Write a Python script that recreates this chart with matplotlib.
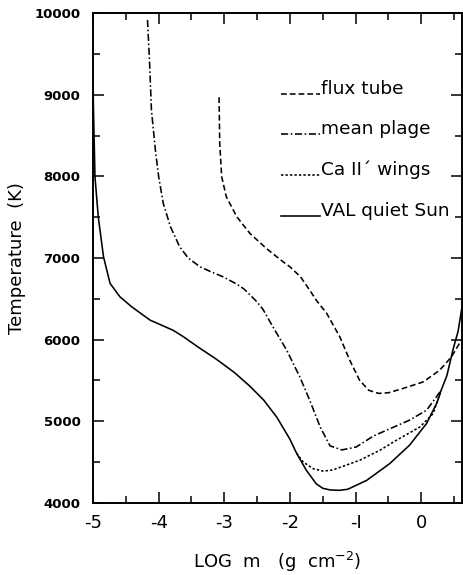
import numpy as np
import matplotlib
matplotlib.use("Agg")
import matplotlib.pyplot as plt
from matplotlib.ticker import MultipleLocator
from matplotlib.legend_handler import HandlerLine2D

# ---- data: log column mass vs temperature ----
val_x = [-5.0, -4.995, -4.97, -4.92, -4.84, -4.74, -4.59, -4.41, -4.13, -3.78, -3.63, -3.4,
         -3.12, -2.85, -2.61, -2.4, -2.2, -2.0, -1.9, -1.75, -1.6, -1.5, -1.39, -1.25, -1.12,
         -0.83, -0.48, -0.18, 0.08, 0.24, 0.3, 0.39, 0.49, 0.56, 0.63]
val_t = [9280, 8900, 7995, 7505, 7015, 6689, 6525, 6402, 6239, 6115, 6040, 5910,
         5760, 5600, 5430, 5260, 5050, 4780, 4610, 4400, 4235, 4180, 4160, 4155, 4168,
         4278, 4483, 4707, 4973, 5230, 5375, 5560, 5900, 6100, 6450]

ca_x = [-1.9, -1.8, -1.65, -1.49, -1.35, -1.19, -0.94, -0.63, -0.38, -0.02, 0.18, 0.3]
ca_t = [4610, 4503, 4421, 4390, 4405, 4450, 4523, 4646, 4768, 4931, 5095, 5375]

plage_x = [-4.17, -4.14, -4.11, -4.05, -4.0, -3.93, -3.82, -3.68, -3.55, -3.37, -3.2,
           -3.02, -2.81, -2.7, -2.61, -2.5, -2.41, -2.26, -2.05, -1.85, -1.7, -1.54, -1.39,
           -1.21, -0.99, -0.73, -0.53, -0.18, 0.08, 0.23, 0.3]
plage_t = [9915, 9425, 8812, 8322, 7995, 7669, 7382, 7137, 7000, 6892, 6830,
           6770, 6680, 6620, 6550, 6460, 6370, 6157, 5871, 5544, 5259, 4931, 4700,
           4650, 4686, 4820, 4891, 5014, 5136, 5299, 5380]

flux_x = [-3.08, -3.07, -3.04, -2.97, -2.81, -2.61, -2.36, -2.1, -2.0, -1.84, -1.7, -1.6,
          -1.44, -1.24, -1.09, -0.94, -0.8, -0.65, -0.5, -0.28, 0.03, 0.28, 0.46, 0.63]
flux_t = [8968, 8404, 7995, 7750, 7505, 7301, 7117, 6950, 6892, 6770, 6607, 6484,
          6321, 6034, 5749, 5504, 5380, 5342, 5350, 5402, 5483, 5626, 5790, 6020]

xticks = [-5, -4, -3, -2, -1, 0]
xticklabels = ["-5", "-4", "-3", "-2", "-I", "0"]
yticks = [4000, 5000, 6000, 7000, 8000, 9000, 10000]


class BaselineHandler(HandlerLine2D):
    """legend line drawn on the text baseline, like ____label"""
    def create_artists(self, legend, orig_handle, xdescent, ydescent, width, height,
                       fontsize, trans):
        arts = super().create_artists(legend, orig_handle, xdescent, ydescent, width,
                                      height, fontsize, trans)
        for a in arts:
            a.set_ydata(np.zeros_like(np.asarray(a.get_xdata(), dtype=float)))
        return arts


fig = plt.figure(figsize=(4.63, 5.75), dpi=100)
ax = fig.add_axes([93 / 463, 1 - 503 / 575, 369 / 463, 490 / 575])

lw = 1.15
ax.plot(flux_x, flux_t, color="black", lw=lw, ls=(0, (3.6, 1.9)), label="flux tube")
ax.plot(plage_x, plage_t, color="black", lw=lw, ls=(0, (4.5, 1.6, 1.0, 1.6)), label="mean plage")
ax.plot(ca_x, ca_t, color="black", lw=lw, ls=(0, (1.5, 1.3)), label="Ca II\u00b4 wings")
ax.plot(val_x, val_t, color="black", lw=lw, ls="-", label="VAL quiet Sun")

ax.set_xlim(-5, 0.62)
ax.set_ylim(4000, 10000)
ax.set_xticks(xticks)
ax.set_xticklabels(xticklabels, fontsize=13)
ax.set_yticks(yticks)
ax.set_yticklabels([str(v) for v in yticks], fontsize=9.5, fontweight="bold")
ax.xaxis.set_minor_locator(MultipleLocator(0.5))
ax.yaxis.set_minor_locator(MultipleLocator(500))
ax.tick_params(which="both", direction="in", top=True, right=True, width=1.1)
ax.tick_params(which="major", length=8)
ax.tick_params(which="minor", length=5)
ax.tick_params(axis="x", pad=8)
ax.tick_params(axis="y", pad=9)
for s in ax.spines.values():
    s.set_linewidth(1.4)

ax.set_xlabel("LOG  m   (g  cm$^{-2}$)", fontsize=13, labelpad=13)
ax.set_ylabel("Temperature  (K)", fontsize=13, labelpad=6)

ax.legend(loc="upper left", bbox_to_anchor=(0.509, 0.864), frameon=False, fontsize=13.3,
          handlelength=2.1, handletextpad=0.1, labelspacing=1.22, borderpad=0,
          borderaxespad=0, handler_map={plt.Line2D: BaselineHandler()})

fig.savefig("out.png", dpi=100)
